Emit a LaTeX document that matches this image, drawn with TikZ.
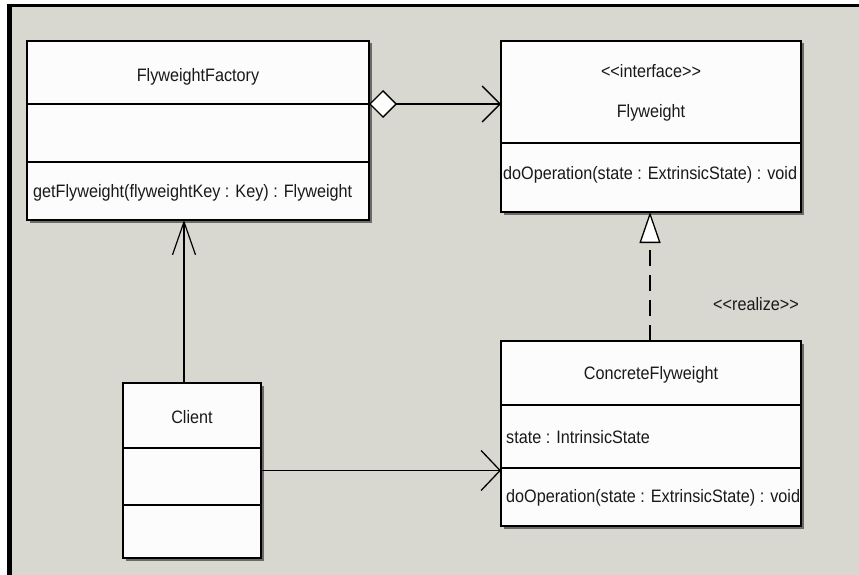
\documentclass[tikz,border=0pt]{standalone}
\usepackage{fontspec}
\setmainfont[FakeStretch=0.9]{Liberation Sans}
\usetikzlibrary{arrows.meta,shadows}
\definecolor{bggray}{RGB}{216,216,208}
\begin{document}
\begin{tikzpicture}[x=1pt,y=-1pt,
  umlbox/.style={draw=black, line width=1.8pt, fill=white!99!black, inner sep=0pt, outer sep=0pt, anchor=north west,
    drop shadow={shadow xshift=2.5pt, shadow yshift=-2.5pt, opacity=0.5, fill=black}},
  txt/.style={font=\fontsize{18pt}{20pt}\selectfont, inner sep=0pt, text=black!90},
  divider/.style={line width=1.8pt},
  conn/.style={line width=1.8pt},
]
\useasboundingbox (0,0) rectangle (859,575);
\fill[white] (0,0) rectangle (859,575);
\fill[black] (7,4) rectangle (859,575);
\fill[bggray] (12,7) rectangle (859,575);

% boxes
\node[umlbox, minimum width=342pt, minimum height=179pt] (ff) at (27,41) {};
\node[umlbox, minimum width=300pt, minimum height=171pt] (fw) at (501,41) {};
\node[umlbox, minimum width=138pt, minimum height=175pt] (client) at (123,383) {};
\node[umlbox, minimum width=300pt, minimum height=185pt] (cf) at (501,341) {};

% dividers
\draw[divider] (ff.west |- 0,104) -- (ff.east |- 0,104);
\draw[divider] (ff.west |- 0,162) -- (ff.east |- 0,162);
\draw[divider] (fw.west |- 0,143) -- (fw.east |- 0,143);
\draw[divider] (client.west |- 0,448) -- (client.east |- 0,448);
\draw[divider] (client.west |- 0,505) -- (client.east |- 0,505);
\draw[divider] (cf.west |- 0,405) -- (cf.east |- 0,405);
\draw[divider] (cf.west |- 0,468) -- (cf.east |- 0,468);

% texts
\node[txt] (fftitle) at (198,77) {FlyweightFactory};
\node[txt, anchor=west] (ffop) at (33,193) {getFlyweight(flyweightKey : Key) : Flyweight};
\node[txt] (fwstereo) at (651,71) {<{}<interface>{}>};
\node[txt] (fwtitle) at (651,113) {Flyweight};
\node[txt, anchor=west] (fwop) at (503,175) {doOperation(state : ExtrinsicState) : void};
\node[txt] (clienttitle) at (192,417) {Client};
\node[txt] (cftitle) at (651,375) {ConcreteFlyweight};
\node[txt, anchor=west] (cfattr) at (506,437) {state : IntrinsicState};
\node[txt, anchor=west] (cfop) at (506,498) {doOperation(state : ExtrinsicState) : void};
\node[txt] (realize) at (756,304) {<{}<realize>{}>};

% connectors
\draw[conn, {Diamond[length=28pt,width=28pt,fill=white,line width=1.3pt]}-{Straight Barb[length=18pt,width=36pt,line width=1.3pt]}]
  ([yshift=-63pt]ff.north east) -- ([yshift=-63pt]ff.north east -| fw.west);
\draw[line width=1.5pt, -{Straight Barb[length=33pt,width=23pt,line width=1.2pt]}]
  ([xshift=-8pt]client.north) -- ([xshift=-8pt]client.north |- ff.south);
\draw[conn, -{Straight Barb[length=19pt,width=40pt,line width=1.3pt]}]
  (client.east) -- (client.east -| cf.west);
\draw[line width=1.5pt, dash pattern=on 16pt off 9pt, -{Triangle[length=31pt,width=21pt,fill=white,line width=1.3pt]}]
  ([xshift=-1pt]cf.north) -- ([xshift=-1pt]cf.north |- fw.south);
\end{tikzpicture}
\end{document}
